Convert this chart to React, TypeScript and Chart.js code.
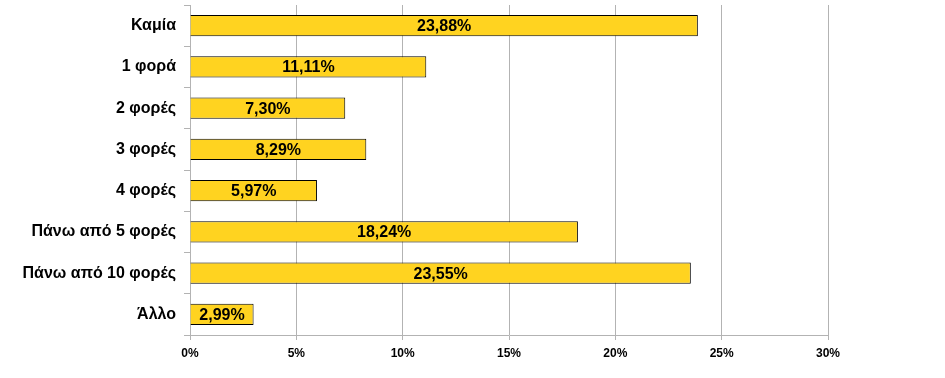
import React, { useEffect, useRef } from "react";
import { Chart, registerables } from "chart.js";

Chart.register(...registerables);

const categories = ["Καμία", "1 φορά", "2 φορές", "3 φορές", "4 φορές", "Πάνω από 5 φορές", "Πάνω από 10 φορές", "Άλλο"];
const values = [23.88, 11.11, 7.3, 8.29, 5.97, 18.24, 23.55, 2.99];
const valueLabels = ["23,88%", "11,11%", "7,30%", "8,29%", "5,97%", "18,24%", "23,55%", "2,99%"];
const tickLabels = ["0%", "5%", "10%", "15%", "20%", "25%", "30%"];

const FONT = "'Liberation Sans', Arial, sans-serif";

const labelPlugin = {
  id: "barLabels",
  afterDatasetsDraw(chart: any) {
    const ctx = chart.ctx;
    const meta = chart.getDatasetMeta(0);
    ctx.save();
    ctx.font = `bold 16px ${FONT}`;
    ctx.fillStyle = "#000";
    ctx.textAlign = "center";
    ctx.textBaseline = "middle";
    meta.data.forEach((bar: any, i: number) => {
      const cx = (bar.base + bar.x) / 2;
      ctx.fillText(valueLabels[i], cx, bar.y + 1);
    });
    ctx.restore();
  },
};

export default function App() {
  const ref = useRef<HTMLCanvasElement>(null);
  useEffect(() => {
    const chart = new Chart(ref.current!, {
      type: "bar",
      data: {
        labels: categories,
        datasets: [
          {
            data: values,
            backgroundColor: "#FFD320",
            borderColor: "#000",
            borderWidth: 1,
            barPercentage: 0.51,
            categoryPercentage: 1,
          },
        ],
      },
      options: {
        indexAxis: "y",
        animation: false,
        responsive: false,
        devicePixelRatio: 1,
        layout: { padding: { top: 5, right: 117, left: 0, bottom: 0 } },
        plugins: { legend: { display: false }, tooltip: { enabled: false } },
        scales: {
          x: {
            min: 0,
            max: 30,
            ticks: {
              stepSize: 5,
              color: "#000",
              font: { family: FONT, size: 12, weight: "bold" },
              padding: 6,
              callback: (_v: any, i: number) => tickLabels[i],
            },
            grid: { color: "#b3b3b3", tickLength: 5, lineWidth: 1 },
            border: { color: "#b3b3b3" },
            afterFit: (s: any) => {
              s.height = 43;
              s.paddingLeft = 0;
              s.paddingRight = 0;
            },
          },
          y: {
            ticks: {
              color: "#000",
              font: { family: FONT, size: 16, weight: "bold" },
              padding: 8,
            },
            grid: { drawOnChartArea: false, color: "#b3b3b3", tickLength: 6, offset: true },
            border: { color: "#b3b3b3" },
            afterFit: (s: any) => {
              s.width = 190;
              s.paddingTop = 0;
              s.paddingBottom = 0;
            },
          },
        },
      },
      plugins: [labelPlugin],
    });
    return () => chart.destroy();
  }, []);
  return (
    <div style={{ position: "fixed", left: 0, top: 0, width: 945, height: 378, background: "#fff" }}>
      <canvas ref={ref} width={945} height={378} style={{ width: 945, height: 378 }} />
    </div>
  );
}
